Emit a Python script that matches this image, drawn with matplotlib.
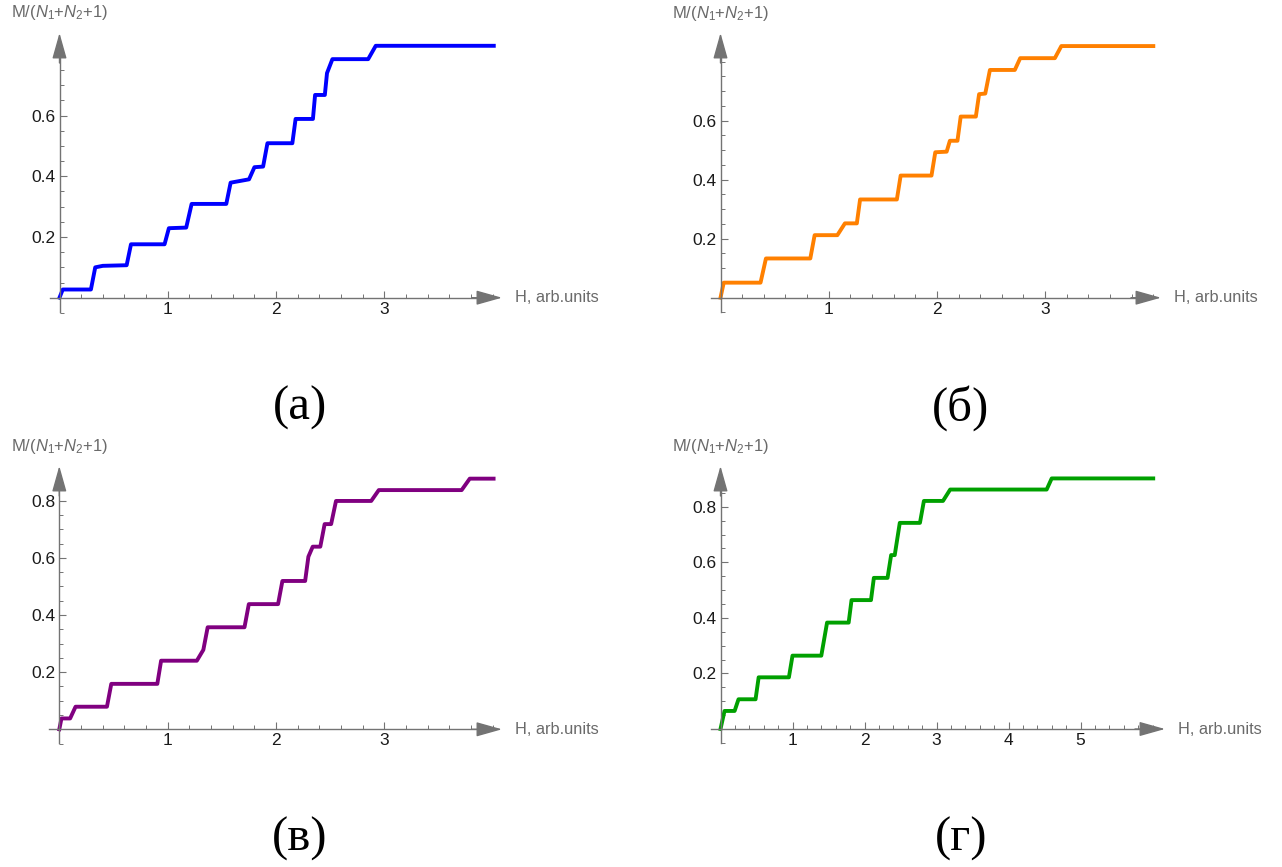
import matplotlib
matplotlib.use('Agg')
import matplotlib.pyplot as plt
import numpy as np

plt.rcParams['font.family'] = ['Liberation Sans', 'DejaVu Sans']
plt.rcParams['mathtext.fontset'] = 'custom'
plt.rcParams['mathtext.rm'] = 'Liberation Sans'
plt.rcParams['mathtext.it'] = 'Liberation Sans:italic'

# curve vertices: field H and M/(N1+N2+1)
h_a = [0, 0.03, 0.29, 0.33, 0.40, 0.62, 0.66, 0.97, 1.01, 1.17, 1.22, 1.54, 1.58, 1.75, 1.80,
       1.88, 1.92, 2.15, 2.18, 2.34, 2.36, 2.45, 2.47, 2.52, 2.85, 2.92, 4.01]
m_a = [0, 0.027, 0.027, 0.100, 0.105, 0.107, 0.176, 0.176, 0.229, 0.231, 0.309, 0.309, 0.379, 0.390, 0.430,
       0.432, 0.509, 0.509, 0.589, 0.589, 0.668, 0.668, 0.740, 0.786, 0.786, 0.830, 0.830]

h_b = [0, 0.03, 0.37, 0.42, 0.83, 0.87, 1.08, 1.15, 1.26, 1.29, 1.63, 1.665, 1.95, 1.985, 2.09,
       2.12, 2.19, 2.22, 2.36, 2.39, 2.447, 2.49, 2.72, 2.77, 3.09, 3.15, 4.0]
m_b = [0, 0.051, 0.051, 0.133, 0.133, 0.212, 0.212, 0.252, 0.252, 0.333, 0.333, 0.414, 0.414, 0.493, 0.495,
       0.532, 0.532, 0.614, 0.614, 0.690, 0.692, 0.772, 0.772, 0.812, 0.812, 0.853, 0.853]

h_c = [0, 0.02, 0.10, 0.15, 0.44, 0.48, 0.905, 0.94, 1.27, 1.33, 1.37, 1.71, 1.75, 2.02, 2.06,
       2.27, 2.30, 2.34, 2.41, 2.45, 2.51, 2.555, 2.88, 2.95, 3.715, 3.79, 4.01]
m_c = [0, 0.038, 0.038, 0.079, 0.079, 0.159, 0.159, 0.240, 0.240, 0.278, 0.357, 0.357, 0.438, 0.438, 0.519,
       0.519, 0.604, 0.639, 0.639, 0.718, 0.718, 0.799, 0.799, 0.837, 0.837, 0.877, 0.877]

h_d = [0, 0.056, 0.196, 0.25, 0.487, 0.53, 0.95, 1.0, 1.40, 1.48, 1.78, 1.82, 2.09, 2.13, 2.32,
       2.37, 2.42, 2.49, 2.77, 2.825, 3.09, 3.19, 4.53, 4.60, 6.01]
m_d = [0, 0.065, 0.065, 0.107, 0.107, 0.186, 0.186, 0.264, 0.264, 0.383, 0.383, 0.464, 0.464, 0.544, 0.544,
       0.626, 0.626, 0.742, 0.742, 0.821, 0.821, 0.862, 0.862, 0.902, 0.902]

xticks_ab = [1, 2, 3]
xticks_d = [1, 2, 3, 4, 5]
yticks_ab = [0.2, 0.4, 0.6]
yticks_cd = [0.2, 0.4, 0.6, 0.8]
captions = ['(а)', '(б)', '(в)', '(г)']
ylabel = r'M/($N_1$+$N_2$+1)'
xlabel = 'H, arb.units'

W, H = 1282, 867
AXC = '#737373'
LABC = '#6a6a6a'

fig = plt.figure(figsize=(W / 100, H / 100), dpi=100)


def panel(h, m, color, ox, oy, sx, sy, xtip, ytip, xmaj, xmin_top, ymaj, ymin_top, cap, capx, capy):
    # ox, oy: origin in pixels; sx, sy: pixels per unit
    xt = (xtip - ox) / sx
    yt = (oy - ytip) / sy
    x0, x1 = -0.2, xt + 0.05
    y0, y1 = -0.08, yt + 0.03
    ax = fig.add_axes([(ox + x0 * sx) / W, (H - oy + y0 * sy) / H,
                       (x1 - x0) * sx / W, (y1 - y0) * sy / H])
    ax.set_xlim(x0, x1)
    ax.set_ylim(y0, y1)
    ax.patch.set_alpha(0)
    for s in ['top', 'right']:
        ax.spines[s].set_visible(False)
    ax.spines['left'].set_position(('data', 0))
    ax.spines['bottom'].set_position(('data', 0))
    ax.spines['bottom'].set_bounds(-10 / sx, xt - 10 / sx)
    ax.spines['left'].set_bounds(-14 / sy, yt - 10 / sy)
    for s in ['left', 'bottom']:
        ax.spines[s].set_color(AXC)
        ax.spines[s].set_linewidth(1.0)

    astyle = '-|>,head_length=1.6,head_width=0.45'
    ax.annotate('', xy=(xt, 0), xytext=(xt - 30 / sx, 0), annotation_clip=False,
                arrowprops=dict(arrowstyle=astyle, color=AXC, lw=1, mutation_scale=10,
                                shrinkA=0, shrinkB=0))
    ax.annotate('', xy=(0, yt), xytext=(0, yt - 30 / sy), annotation_clip=False,
                arrowprops=dict(arrowstyle=astyle, color=AXC, lw=1, mutation_scale=10,
                                shrinkA=0, shrinkB=0))

    ax.set_xticks(xmaj)
    ax.set_xticklabels([str(v) for v in xmaj])
    ax.set_xticks([v for v in np.arange(0.2, xmin_top + 0.01, 0.2)], minor=True)
    ax.set_yticks(ymaj)
    ax.set_yticklabels([f'{v:.1f}' for v in ymaj])
    ax.set_yticks([v for v in np.arange(-0.05, ymin_top + 0.001, 0.05)], minor=True)
    ax.tick_params(which='major', direction='in', length=5, width=0.8, color=AXC,
                   labelsize=12.5, labelcolor='#1a1a1a')
    ax.tick_params(which='minor', direction='in', length=3, width=0.7, color=AXC)
    ax.tick_params(axis='x', which='major', pad=3)
    ax.tick_params(axis='y', which='major', pad=3)

    ax.plot(h, m, color=color, lw=2.8, clip_on=False, solid_joinstyle='round')

    ax.text(xt + 13 / sx, 0, xlabel, ha='left', va='center', fontsize=11.8, color=LABC, clip_on=False)
    ax.text(0, yt + 20 / sy, ylabel, ha='center', va='center', fontsize=12, color=LABC, clip_on=False)

    fig.text(capx / W, 1 - capy / H, cap, ha='center', va='center', fontsize=35,
             family=['Liberation Serif', 'DejaVu Serif'])
    return ax


panel(h_a, m_a, '#0000ff', 59.5, 297.7, 108.3, 303.5, 502, 33, xticks_ab, 4.0, yticks_ab, 0.8,
      captions[0], 300, 408)
panel(h_b, m_b, '#ff8000', 720.5, 297.7, 108.2, 295.0, 1161, 33, xticks_ab, 4.0, yticks_ab, 0.8,
      captions[1], 961, 408)
panel(h_c, m_c, '#800080', 59.3, 729.3, 108.3, 285.8, 502, 466, xticks_ab, 4.0, yticks_cd, 0.85,
      captions[2], 300, 839)
panel(h_d, m_d, '#00a000', 720.5, 729.0, 72.0, 277.8, 1165, 466, xticks_d, 6.0, yticks_cd, 0.85,
      captions[3], 961, 839)

fig.savefig('out.png', dpi=100)
